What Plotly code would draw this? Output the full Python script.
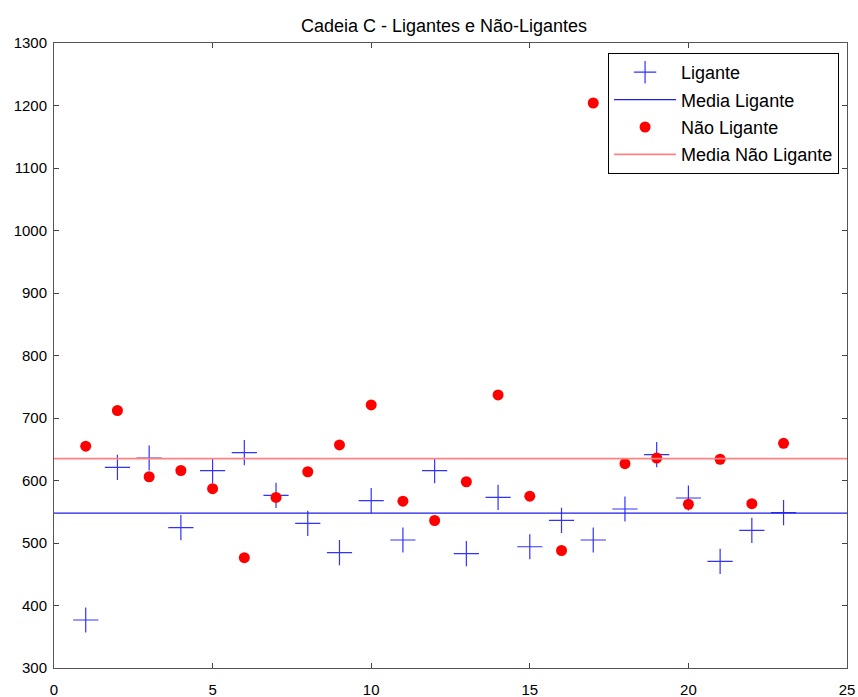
import numpy as np
import plotly.graph_objects as go

# Data
indices = list(range(1, 24))
ligante = [376.8, 621.0, 636.0, 524.5, 615.7, 644.5, 576.3, 531.5, 484.5, 567.7,
           504.8, 615.7, 483.0, 573.0, 494.0, 536.3, 504.8, 554.4, 641.3, 572.0,
           470.7, 520.3, 548.5]
nao_ligante = [655.0, 712.0, 606.0, 616.0, 587.0, 476.5, 573.0, 614.0, 657.0, 721.0,
               567.0, 536.0, 598.0, 737.0, 575.0, 488.0, 1204.0, 627.0, 636.0, 562.0,
               634.0, 563.0, 659.5]
x_range = [0, 25]
y_range = [300, 1300]
x_ticks = [0, 5, 10, 15, 20, 25]
y_ticks = list(range(300, 1301, 100))

media_lig = float(np.mean(ligante))
media_nao = float(np.mean(nao_ligante))

FONT = "Liberation Sans, Arial, sans-serif"

fig = go.Figure()
fig.add_trace(go.Scatter(
    x=indices, y=ligante, mode="markers", name="Ligante", legendgroup="a",
    marker=dict(symbol="cross-thin", size=18, line=dict(color="rgb(50,50,255)", width=1.2)),
))
fig.add_trace(go.Scatter(
    x=x_range, y=[media_lig, media_lig], mode="lines", name="Media Ligante", legendgroup="b",
    line=dict(color="rgb(30,30,230)", width=1.2),
))
fig.add_trace(go.Scatter(
    x=indices, y=nao_ligante, mode="markers", name="Não Ligante", legendgroup="c",
    marker=dict(symbol="circle", size=11, color="#ff0000"),
))
fig.add_trace(go.Scatter(
    x=x_range, y=[media_nao, media_nao], mode="lines", name="Media Não Ligante", legendgroup="d",
    line=dict(color="rgb(255,130,130)", width=1.6),
))

axis_common = dict(
    showgrid=False, zeroline=False, showline=True, linecolor="#555555", linewidth=1,
    mirror="ticks", ticks="inside", ticklen=5, tickcolor="#444444", automargin=False,
    tickfont=dict(family=FONT, size=15, color="black"),
)
fig.update_xaxes(range=x_range, tickvals=x_ticks, ticklabelstandoff=8, **axis_common)
fig.update_yaxes(range=y_range, tickvals=y_ticks, ticklabelstandoff=3, **axis_common)

fig.update_layout(
    width=858, height=697,
    margin=dict(l=54, r=11, t=43, b=29),
    paper_bgcolor="white", plot_bgcolor="white",
    title=dict(text="Cadeia C - Ligantes e Não-Ligantes", x=0.5175, xanchor="center",
               y=0.963, yanchor="middle", automargin=False,
               font=dict(family=FONT, size=18, color="black")),
    legend=dict(x=0.99, y=0.984, xanchor="right", yanchor="top",
                bgcolor="white", bordercolor="black", borderwidth=1,
                font=dict(family=FONT, size=18, color="black"),
                itemwidth=62, tracegroupgap=1, traceorder="grouped"),
    showlegend=True,
)

fig.write_html("out.html")
